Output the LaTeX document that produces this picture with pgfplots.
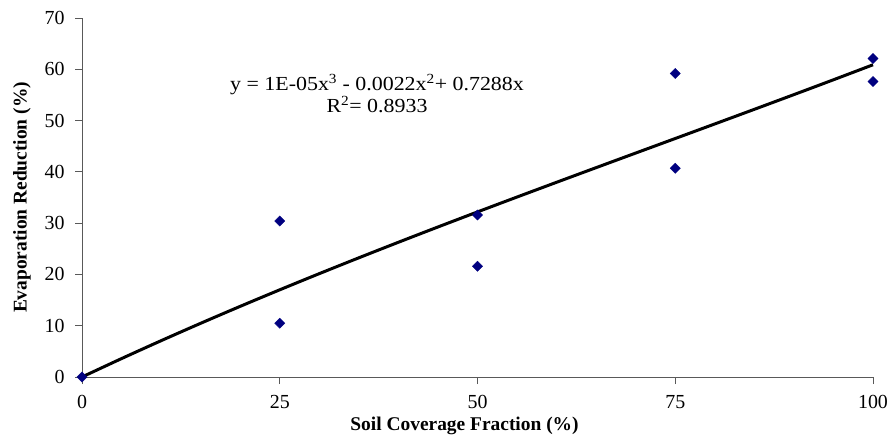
\documentclass[border=0pt]{standalone}
\usepackage{pgfplots}
\pgfplotsset{compat=1.18}
\usepackage{fontspec}
\setmainfont{Liberation Serif}
\newfontfamily\eqfont[FakeStretch=1.1]{Liberation Serif}
\definecolor{navy}{RGB}{0,0,128}
\begin{document}
\begin{tikzpicture}
\useasboundingbox (-82bp,-63bp) rectangle (806bp,377bp);
\begin{axis}[
  scale only axis,
  width=791bp, height=359bp,
  at={(0,0)}, anchor=origin,
  xmin=0, xmax=100, ymin=0, ymax=70,
  axis x line=bottom, axis y line=left,
  axis line style={-, black!65, line width=0.9bp},
  xtick={0,25,50,75,100}, ytick={0,10,...,70},
  tick align=outside, major tick length=7bp,
  tick style={black!65, line width=0.9bp},
  /pgf/number format/assume math mode=true,
  tick label style={font=\fontsize{20}{24}\selectfont},
  xticklabel style={yshift=-8bp},
  yticklabel style={xshift=-7bp},
  xlabel={\textbf{Soil Coverage Fraction (\%)}},
  ylabel={\textbf{Evaporation Reduction (\%)}},
  label style={font=\fontsize{19.5}{23}\selectfont},
  xlabel style={yshift=-1bp, xshift=-13bp},
  ylabel style={yshift=7bp},
  clip=false,
]
\addplot[black, line width=3bp, smooth] coordinates {
(0,0) (5,3.590) (10,7.078) (15,10.471) (20,13.776) (25,17.001) (30,20.154)
(35,23.242) (40,26.272) (45,29.252) (50,32.19) (55,35.093) (60,37.968)
(65,40.823) (70,43.666) (75,46.504) (80,49.344) (85,52.194) (90,55.062)
(95,57.955) (100,60.88)};
\addplot[only marks, mark=square*, mark size=3.6bp, mark options={rotate=45}, color=navy] coordinates {
(0,0) (25,30.4) (25,10.5) (50,31.6) (50,21.6) (75,59.2) (75,40.7) (100,62.1) (100,57.6)};
\node[align=center, font=\eqfont\fontsize{20}{22}\selectfont] at (axis cs:37.3,55.3)
  {y = 1E-05x\textsuperscript{3} - 0.0022x\textsuperscript{2}+ 0.7288x\\R\textsuperscript{2}= 0.8933};
\end{axis}
\end{tikzpicture}
\end{document}
